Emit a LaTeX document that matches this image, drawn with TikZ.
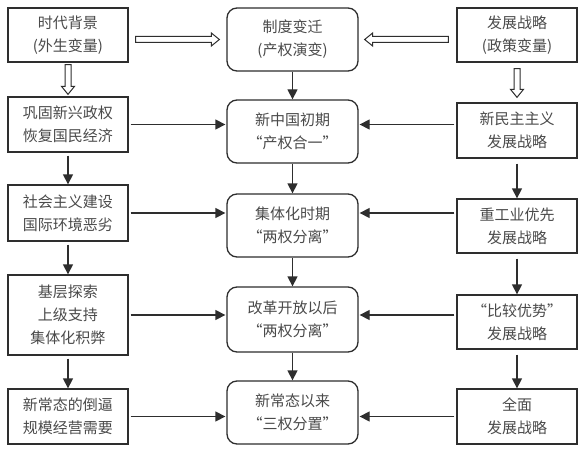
\documentclass[tikz,border=0pt]{standalone}
\usepackage{fontspec}
\setmainfont{Noto Sans CJK SC}
\usetikzlibrary{arrows.meta,calc}
\definecolor{ln}{HTML}{2E2E2E}
\definecolor{tx}{HTML}{4A4A4A}
\newcommand\hollowarrow[2]{%
  \coordinate (hA) at ($(#2)!8pt!(#1)$);
  \draw[ln, line width=1pt, fill=white, line join=miter]
    ($(#1)!3pt!90:(#2)$) -- ($(hA)!3pt!90:(#2)$) -- ($(hA)!6.5pt!90:(#2)$) -- (#2)
    -- ($(hA)!6.5pt!-90:(#2)$) -- ($(hA)!3pt!-90:(#2)$) -- ($(#1)!3pt!-90:(#2)$) -- cycle;}
\begin{document}
\begin{tikzpicture}[x=1pt,y=-1pt,
  txt/.style={text=tx, font=\fontsize{15pt}{23pt}\selectfont, align=center, inner sep=0pt},
  sbox/.style={txt, draw=ln, line width=1.3pt, minimum width=120pt},
  rbox/.style={txt, draw=ln, line width=1.3pt, rounded corners=10pt, minimum width=131pt},
  arr/.style={draw=ln, line width=1.3pt, -{Triangle[length=10pt,width=10pt]}}]
\useasboundingbox[fill=white] (0,0) rectangle (584,452);
% left column
\node[sbox, minimum height=54pt] (L1) at (68,35) {时代背景\\(外生变量)};
\node[sbox, minimum height=55pt] (L2) at (68,124.5) {巩固新兴政权\\恢复国民经济};
\node[sbox, minimum height=56pt] (L3) at (68,213) {社会主义建设\\国际环境恶劣};
\node[sbox, minimum height=80pt] (L4) at (68,315) {基层探索\\上级支持\\集体化积弊};
\node[sbox, minimum height=55pt] (L5) at (68,416.5) {新常态的倒逼\\规模经营需要};
% middle column
\node[rbox, minimum height=63pt] (M1) at (292.5,39.5) {制度变迁\\(产权演变)};
\node[rbox, minimum height=63pt] (M2) at (292.5,131.5) {新中国初期\\“产权合一”};
\node[rbox, minimum height=63pt] (M3) at (292.5,225.5) {集体化时期\\“两权分离”};
\node[rbox, minimum height=65pt] (M4) at (292.5,319.5) {改革开放以后\\“两权分离”};
\node[rbox, minimum height=63pt] (M5) at (292.5,412.5) {新常态以来\\“三权分置”};
% right column
\node[sbox, minimum height=54pt] (R1) at (517,35) {发展战略\\(政策变量)};
\node[sbox, minimum height=55pt] (R2) at (517,130.5) {新民主主义\\发展战略};
\node[sbox, minimum height=54pt] (R3) at (517,226) {重工业优先\\发展战略};
\node[sbox, minimum height=54pt] (R4) at (517,322) {“比较优势”\\发展战略};
\node[sbox, minimum height=55pt] (R5) at (517,416.5) {全面\\发展战略};
% hollow arrows
\coordinate (d1s) at ($(L1.east |- M1.center)+(7,0)$);
\coordinate (d1e) at ($(M1.west)+(-7,0)$);
\coordinate (d2s) at ($(R1.west |- M1.center)+(-8,0)$);
\coordinate (d2e) at ($(M1.east)+(6,0)$);
\coordinate (d3s) at ($(L1.south)+(0,2)$);
\coordinate (d3e) at ($(L2.north)+(0,-2)$);
\coordinate (d4s) at ($(R1.south)+(0,6)$);
\coordinate (d4e) at ($(R2.north)+(0,-5)$);
\hollowarrow{d1s}{d1e}
\hollowarrow{d2s}{d2e}
\hollowarrow{d3s}{d3e}
\hollowarrow{d4s}{d4e}
% vertical arrows
\draw[arr, shorten <=3pt] (L2.south) -- (L3.north);
\draw[arr, shorten <=3pt] (L3.south) -- (L4.north);
\draw[arr, shorten <=3pt] (L4.south) -- (L5.north);
\draw[arr] (M1.south) -- (M2.north);
\draw[arr] (M2.south) -- (M3.north);
\draw[arr] (M3.south) -- (M4.north);
\draw[arr] (M4.south) -- (M5.north);
\draw[arr, shorten <=5pt] (R2.south) -- (R3.north);
\draw[arr, shorten <=5pt] (R3.south) -- (R4.north);
\draw[arr, shorten <=5pt] (R4.south) -- (R5.north);
% horizontal arrows
\draw[arr, shorten <=2pt, shorten >=1pt] (L2.east) -- (L2.east -| M2.west);
\draw[arr, shorten <=2pt, shorten >=1pt] (L3.east) -- (L3.east -| M3.west);
\draw[arr, shorten <=2pt, shorten >=1pt] (L4.east) -- (L4.east -| M4.west);
\draw[arr, shorten <=2pt, shorten >=1pt] (L5.east) -- (L5.east -| M5.west);
\draw[arr, shorten <=2pt, shorten >=1pt] (R2.west |- L2.east) -- (M2.east |- L2.east);
\draw[arr, shorten <=2pt, shorten >=1pt] (R3.west |- L3.east) -- (M3.east |- L3.east);
\draw[arr, shorten <=2pt, shorten >=1pt] (R4.west |- L4.east) -- (M4.east |- L4.east);
\draw[arr, shorten <=2pt, shorten >=1pt] (R5.west |- L5.east) -- (M5.east |- L5.east);
\end{tikzpicture}
\end{document}
